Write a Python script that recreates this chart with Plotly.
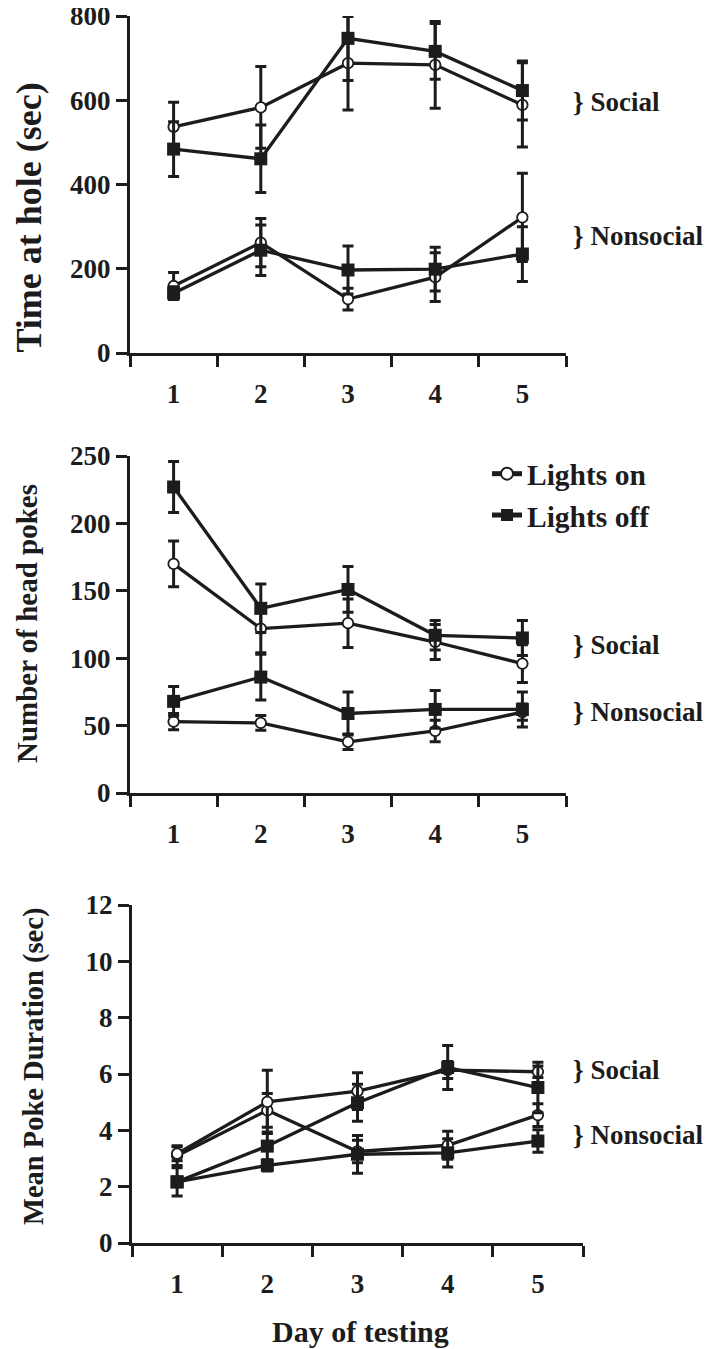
import plotly.graph_objects as go

days = [1, 2, 3, 4, 5]
day_labels = ["1", "2", "3", "4", "5"]

# Panel A: Time at hole (sec)
time_soc_on = [537, 583, 688, 684, 589]
time_soc_on_err = [58, 97, 111, 103, 100]
time_soc_off = [484, 461, 747, 716, 623]
time_soc_off_err = [65, 80, 100, 66, 70]
time_non_on = [159, 262, 128, 180, 322]
time_non_on_err = [32, 57, 26, 58, 105]
time_non_off = [142, 244, 197, 199, 235]
time_non_off_err = [15, 60, 57, 52, 65]

# Panel B: Number of head pokes
poke_soc_on = [170, 122, 126, 112, 96]
poke_soc_on_err = [17, 18, 18, 13, 14]
poke_soc_off = [227, 137, 151, 117, 115]
poke_soc_off_err = [19, 18, 17, 11, 13]
poke_non_on = [53, 52, 38, 46, 60]
poke_non_on_err = [6, 5.5, 5.7, 8, 6]
poke_non_off = [68, 86, 59, 62, 62]
poke_non_off_err = [11, 17, 16, 14, 13]

# Panel C: Mean poke duration (sec)
dur_soc_on = [3.17, 5.01, 5.39, 6.14, 6.08]
dur_soc_on_err = [0.25, 1.12, 0.65, 0.3, 0.2]
dur_soc_off = [2.17, 3.44, 4.98, 6.23, 5.52]
dur_soc_off_err = [0.15, 0.5, 0.66, 0.78, 0.9]
dur_non_on = [3.1, 4.71, 3.25, 3.47, 4.54]
dur_non_on_err = [0.35, 0.6, 0.4, 0.5, 0.4]
dur_non_off = [2.17, 2.76, 3.15, 3.2, 3.62]
dur_non_off_err = [0.5, 0.2, 0.67, 0.5, 0.4]

INK = "#1c1c1c"
FONT = "Liberation Serif"
OFF = 8            # page body margin
W, H = 713 - OFF, 1349 - OFF

fig = go.Figure()


def add_series(y, err, xa, ya, kind, name=None, show=False):
    if kind == "on":
        marker = dict(symbol="circle", size=10.5, color="white", line=dict(color=INK, width=1.8))
    else:
        marker = dict(symbol="square", size=13, color=INK, line=dict(color=INK, width=0))
    fig.add_trace(go.Scatter(
        x=days, y=y, mode="lines+markers", xaxis=xa, yaxis=ya,
        name=name, showlegend=show, legendgroup=kind,
        line=dict(color=INK, width=3.3), marker=marker,
        error_y=dict(type="data", array=err, visible=True, color=INK, thickness=3, width=5.5),
        cliponaxis=False,
    ))


panels = [
    ("x", "y", [(time_non_on, time_non_on_err, "on"), (time_soc_on, time_soc_on_err, "on"),
                (time_non_off, time_non_off_err, "off"), (time_soc_off, time_soc_off_err, "off")]),
    ("x2", "y2", [(poke_non_on, poke_non_on_err, "on"), (poke_soc_on, poke_soc_on_err, "on"),
                  (poke_non_off, poke_non_off_err, "off"), (poke_soc_off, poke_soc_off_err, "off")]),
    ("x3", "y3", [(dur_non_on, dur_non_on_err, "on"), (dur_soc_on, dur_soc_on_err, "on"),
                  (dur_non_off, dur_non_off_err, "off"), (dur_soc_off, dur_soc_off_err, "off")]),
]
for xa, ya, series in panels:
    for y, err, kind in series:
        add_series(y, err, xa, ya, kind)

# legend-only traces
fig.add_trace(go.Scatter(x=[None], y=[None], mode="lines+markers", name="Lights on",
                         xaxis="x2", yaxis="y2",
                         line=dict(color=INK, width=3.2),
                         marker=dict(symbol="circle", size=9, color="white", line=dict(color=INK, width=1.5))))
fig.add_trace(go.Scatter(x=[None], y=[None], mode="lines+markers", name="Lights off",
                         xaxis="x2", yaxis="y2",
                         line=dict(color=INK, width=3.2),
                         marker=dict(symbol="square", size=10, color=INK)))


def px_x(p):
    return (p - OFF) / W


def px_y(p):
    return 1 - (p - OFF) / H


tickfont = dict(family=FONT, size=27, color=INK, weight="bold")


def xaxis(x0, x1, anchor):
    return dict(
        domain=[px_x(x0), px_x(x1)], anchor=anchor, range=[0.5, 5.5], automargin=False,
        tickvals=days, ticktext=day_labels, ticks="", ticklabelstandoff=15,
        ticklabeloverflow="allow",
        minor=dict(tickvals=[0.5, 1.5, 2.5, 3.5, 4.5, 5.5], ticks="outside", ticklen=11,
                   tickwidth=3, tickcolor=INK),
        showline=True, linecolor=INK, linewidth=3, showgrid=False, zeroline=False,
        tickfont=tickfont, fixedrange=True,
    )


def yaxis(y_top, y_bot, anchor, rng, dtick):
    return dict(
        domain=[px_y(y_bot), px_y(y_top)], anchor=anchor, range=rng, dtick=dtick, automargin=False,
        ticks="outside", ticklen=11, tickwidth=3, tickcolor=INK, ticklabelstandoff=0,
        ticklabeloverflow="allow",
        showline=True, linecolor=INK, linewidth=3, showgrid=False, zeroline=False,
        tickfont=tickfont, fixedrange=True,
    )


fig.update_layout(
    width=W, height=H, margin=dict(l=0, r=0, t=0, b=0, autoexpand=False),
    paper_bgcolor="white", plot_bgcolor="white",
    font=dict(family=FONT, color=INK),
    xaxis=xaxis(130, 566, "y"),
    yaxis=yaxis(16, 353, "x", [0, 800], 200),
    xaxis2=xaxis(130, 566, "y2"),
    yaxis2=yaxis(456, 793, "x2", [0, 250], 50),
    xaxis3=xaxis(132, 583, "y3"),
    yaxis3=yaxis(905, 1243, "x3", [0, 12], 2),
    showlegend=True,
    legend=dict(x=px_x(487), y=px_y(448), xanchor="left", yanchor="top",
                font=dict(family=FONT, size=29.5, color=INK, weight="bold"),
                bgcolor="rgba(0,0,0,0)", borderwidth=0, tracegroupgap=0,
                itemsizing="constant", itemwidth=30),
)

annotations = []
# y-axis titles
for text, cx, cy, size in [("Time at hole (sec)", 28.5, 218, 36),
                           ("Number of head pokes", 27, 624, 29),
                           ("Mean Poke Duration (sec)", 34, 1067, 28.5)]:
    annotations.append(dict(text=text, x=px_x(cx), y=px_y(cy), xref="paper", yref="paper",
                            xanchor="center", yanchor="middle", textangle=-90, showarrow=False,
                            font=dict(family=FONT, size=size, color=INK, weight="bold")))
# x-axis title
annotations.append(dict(text="Day of testing", x=px_x(360), y=px_y(1331), xref="paper", yref="paper",
                        xanchor="center", yanchor="middle", showarrow=False,
                        font=dict(family=FONT, size=30, color=INK, weight="bold")))
# group labels
grp_font = dict(family=FONT, size=27, color=INK, weight="bold")
for text, cy in [("} Social", 102), ("} Nonsocial", 236),
                 ("} Social", 645), ("} Nonsocial", 712),
                 ("} Social", 1070), ("} Nonsocial", 1135)]:
    annotations.append(dict(text=text, x=px_x(571), y=px_y(cy), xref="paper", yref="paper",
                            xanchor="left", yanchor="middle", showarrow=False, font=grp_font))
fig.update_layout(annotations=annotations)

fig.write_html("out.html")
